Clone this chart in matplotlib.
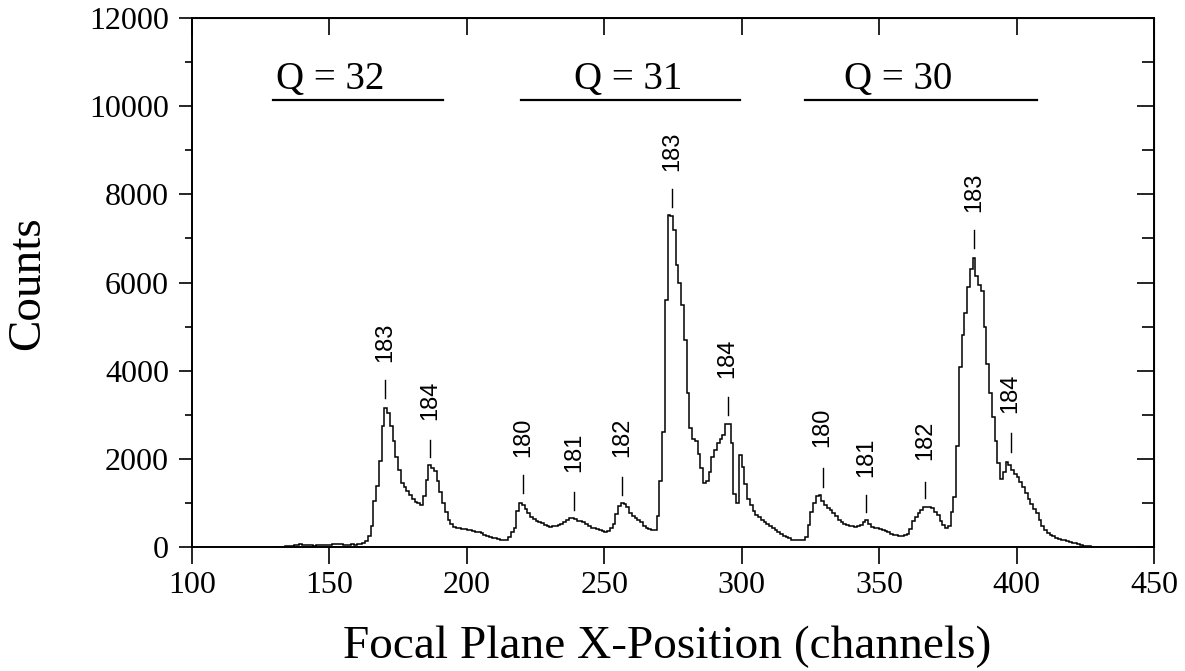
import numpy as np
import matplotlib.pyplot as plt
from matplotlib.ticker import MultipleLocator

# espectro (cuentas por canal), primer canal = 130
first_channel = 130
counts = [
    5, 5, 10, 10, 15, 20, 30, 40, 50, 60,
    55, 45, 40, 35, 30, 35, 40, 50, 55, 50,
    55, 60, 65, 70, 60, 55, 50, 55, 60, 55,
    60, 70, 90, 130, 250, 480, 1050, 1380, 1950, 2750,
    3150, 3050, 2750, 2400, 2050, 1750, 1450, 1350, 1280, 1170,
    1080, 1030, 990, 960, 1150, 1520, 1860, 1800, 1720, 1500,
    1250, 1000, 800, 620, 520, 460, 440, 420, 400, 400,
    390, 380, 360, 350, 330, 310, 280, 250, 230, 210,
    200, 180, 170, 160, 170, 220, 330, 420, 820, 990,
    960, 860, 760, 680, 630, 580, 560, 540, 500, 470,
    460, 470, 480, 500, 520, 560, 620, 650, 660, 640,
    600, 580, 560, 520, 480, 440, 420, 400, 380, 360,
    350, 360, 420, 520, 750, 920, 990, 970, 910, 780,
    700, 650, 620, 560, 480, 420, 400, 390, 380, 700,
    1500, 2600, 5600, 7530, 7500, 7200, 6400, 6000, 5500, 4700,
    3500, 2700, 2450, 2400, 2100, 1800, 1450, 1500, 1700, 2050,
    2200, 2350, 2450, 2550, 2800, 2780, 2350, 1200, 1000, 2090,
    1820, 1440, 1100, 950, 820, 720, 680, 620, 570, 530,
    480, 420, 380, 340, 290, 250, 230, 200, 170, 150,
    150, 160, 170, 230, 500, 800, 1000, 1150, 1180, 1050,
    950, 880, 830, 760, 700, 620, 560, 530, 500, 480,
    470, 460, 470, 490, 560, 610, 530, 460, 440, 420,
    400, 380, 360, 330, 300, 280, 270, 260, 260, 270,
    290, 400, 580, 680, 780, 850, 900, 910, 910, 880,
    800, 730, 600, 500, 440, 480, 800, 1140, 2300, 4080,
    4800, 5300, 5900, 6300, 6550, 6150, 5950, 5800, 5000, 4150,
    3500, 2950, 2400, 1900, 1550, 1700, 1930, 1850, 1740, 1650,
    1590, 1480, 1360, 1230, 1100, 980, 860, 760, 620, 480,
    380, 310, 270, 240, 210, 190, 170, 150, 130, 110,
    100, 80, 60, 40, 30, 20, 15, 10, 5, 5,
]

# etiquetas de masa sobre los picos
peak_channel = [170.2, 186.6, 220.5, 239.0, 256.4, 274.6, 294.9, 329.4, 345.4, 366.6, 384.5, 397.8]
peak_mass = ['183', '184', '180', '181', '182', '183', '184', '180', '181', '182', '183', '184']
dash_low = [3380, 2040, 1220, 840, 1180, 7710, 3000, 1370, 800, 1110, 6780, 2150]
dash_high = [3790, 2430, 1630, 1250, 1590, 8120, 3400, 1800, 1180, 1470, 7190, 2590]
text_low = [4200, 2880, 2040, 1700, 2040, 8530, 3830, 2270, 1590, 1970, 7600, 3040]

# estados de carga
q_labels = ['Q = 32', 'Q = 31', 'Q = 30']
q_text_x = [150.2, 258.6, 356.8]
q_line_start = [129.5, 219.7, 323.0]
q_line_end = [191.3, 299.3, 407.4]
q_line_y = 10130
q_text_y = 10400

serif = 'Liberation Serif'
sans = 'Liberation Sans'

fig = plt.figure(figsize=(11.85, 6.71), dpi=100)
ax = fig.add_axes([192/1185, 1 - 547/671, (1154 - 192)/1185, (547 - 18)/671])

edges = np.arange(first_channel, first_channel + len(counts) + 1)
ax.stairs(counts, edges, color='k', lw=1.1)

for x, m, lo, hi, tl in zip(peak_channel, peak_mass, dash_low, dash_high, text_low):
    ax.plot([x, x], [lo, hi], color='k', lw=1.0)
    ax.text(x, tl, m, rotation=90, ha='center', va='bottom', fontsize=17, family=sans)

for lab, tx, x0, x1 in zip(q_labels, q_text_x, q_line_start, q_line_end):
    ax.plot([x0, x1], [q_line_y, q_line_y], color='k', lw=1.6)
    ax.text(tx, q_text_y, lab, ha='center', va='baseline', fontsize=28, family=serif)

ax.set_xlim(100, 450)
ax.set_ylim(0, 12000)

for s in ax.spines.values():
    s.set_linewidth(1.4)

ax.xaxis.set_major_locator(MultipleLocator(50))
ax.yaxis.set_major_locator(MultipleLocator(2000))
ax.yaxis.set_minor_locator(MultipleLocator(1000))

ax.tick_params(axis='x', which='major', direction='out', length=12, width=1.2,
               top=False, pad=5, labelsize=23)
ax.tick_params(axis='y', which='major', direction='out', length=9.5, width=1.2,
               right=False, pad=7, labelsize=23)
ax.tick_params(axis='y', which='minor', direction='out', length=5, width=1.2, right=False)
for lab in ax.get_xticklabels() + ax.get_yticklabels():
    lab.set_family(serif)

# ticks hacia adentro arriba y a la derecha
top = ax.secondary_xaxis('top')
top.xaxis.set_major_locator(MultipleLocator(50))
top.tick_params(direction='in', length=12, width=1.2, labeltop=False)
right = ax.secondary_yaxis('right')
right.yaxis.set_major_locator(MultipleLocator(2000))
right.yaxis.set_minor_locator(MultipleLocator(1000))
right.tick_params(which='major', direction='in', length=12, width=1.2, labelright=False)
right.tick_params(which='minor', direction='in', length=8.5, width=1.2)

fig.text(28/1185, 1 - 283/671, 'Counts', rotation=90, ha='center', va='center',
         fontsize=34, family=serif)
fig.text(667/1185, 1 - 658/671, 'Focal Plane X-Position (channels)', ha='center',
         va='baseline', fontsize=34, family=serif)

fig.savefig('out.png', dpi=100)
